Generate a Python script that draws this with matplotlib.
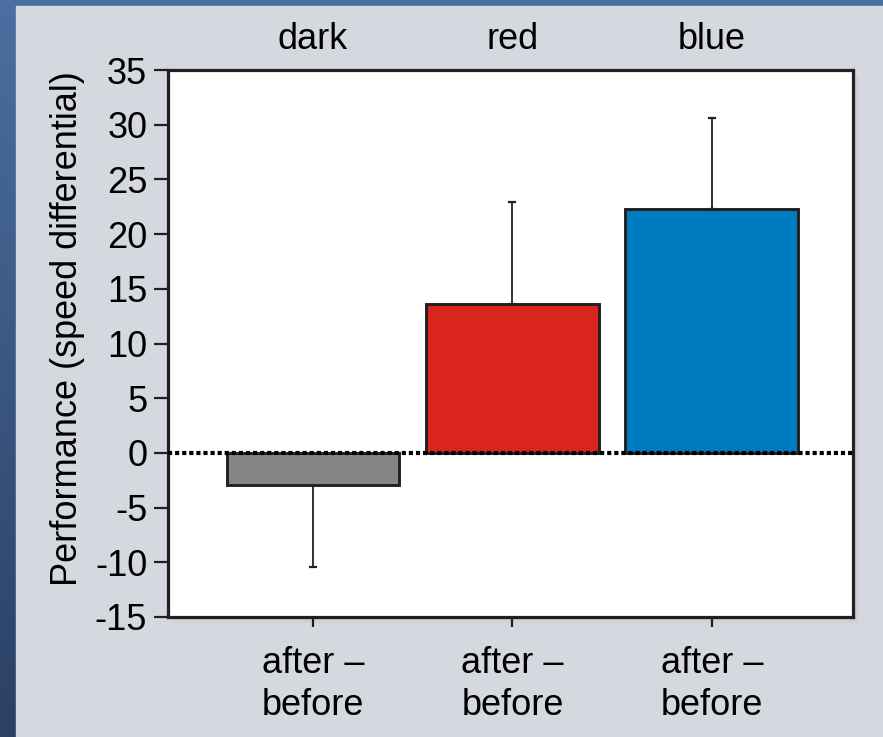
import numpy as np
import matplotlib
matplotlib.use('Agg')
from matplotlib import pyplot as plt
from matplotlib.patches import Rectangle

plt.rcParams['font.family'] = ['Liberation Sans', 'DejaVu Sans']

CONDITIONS = ['dark', 'red', 'blue']
TICK_LABELS = ['after \u2013\nbefore', 'after \u2013\nbefore', 'after \u2013\nbefore']
MEANS = [-2.9, 13.6, 22.3]
ERR_LOW = [7.5, 0.0, 0.0]
ERR_HIGH = [0.0, 9.3, 8.3]
BAR_COLORS = ['#858585', '#da251d', '#007bc2']
YTICKS = [-15, -10, -5, 0, 5, 10, 15, 20, 25, 30, 35]
YLABEL = 'Performance (speed differential)'

W, H = 883, 737
FONT = 26
INK = '#231f20'

fig = plt.figure(figsize=(W / 100, H / 100), dpi=100)

# blue frame gradient behind the light panel
bg = fig.add_axes([0, 0, 1, 1], zorder=-10)
grad = np.linspace(0, 1, 256).reshape(-1, 1)
bg.imshow(grad, aspect='auto', extent=[0, 1, 0, 1], origin='upper',
          cmap=matplotlib.colors.LinearSegmentedColormap.from_list(
              'frame', ['#4a6fa0', '#2b4064']))
bg.add_patch(Rectangle((16 / W, 0), 1, 1 - 6 / H, color='#d5d9df'))
# soft shadow of the plot box
for i, a in enumerate([0.10, 0.07, 0.04]):
    off = (i + 1) * 2
    bg.add_patch(Rectangle(((168 + off) / W, (H - 618 - off) / H),
                           686 / W, 548 / H, color='#8a8f99', alpha=a, lw=0))
bg.set_xlim(0, 1)
bg.set_ylim(0, 1)
bg.axis('off')

ax = fig.add_axes([168 / W, 1 - 617 / H, 685 / W, 547 / H])
x = np.arange(len(CONDITIONS))
ax.bar(x, MEANS, width=0.867, color=BAR_COLORS, edgecolor=INK,
       linewidth=2.1, zorder=3)
ax.errorbar(x, MEANS, yerr=[ERR_LOW, ERR_HIGH], fmt='none', ecolor=INK,
            elinewidth=1.3, capsize=3, capthick=1.6, zorder=2)
ax.axhline(0, color='black', lw=3.0, linestyle=(0, (1.0, 0.7)), zorder=4)

ax.set_xlim(-0.727, 2.707)
ax.set_ylim(-15, 35)
ax.set_yticks(YTICKS)
ax.set_yticklabels([str(v) for v in YTICKS], fontsize=FONT)
ax.set_xticks(x)
ax.set_xticklabels(TICK_LABELS, fontsize=FONT, linespacing=1.25)
ax.tick_params(axis='y', length=10, width=1.6, pad=5, color=INK)
ax.tick_params(axis='x', length=7, width=1.6, pad=14, color=INK)
for sp in ax.spines.values():
    sp.set_linewidth(2.3)
    sp.set_color(INK)

ax.set_ylabel(YLABEL, fontsize=FONT)
ax.yaxis.set_label_coords(-0.121, 0.527)

top = ax.secondary_xaxis('top')
top.set_xticks(x)
top.set_xticklabels(CONDITIONS, fontsize=FONT)
top.tick_params(length=0, pad=9)
top.spines['top'].set_visible(False)

fig.savefig('out.png', dpi=100)
